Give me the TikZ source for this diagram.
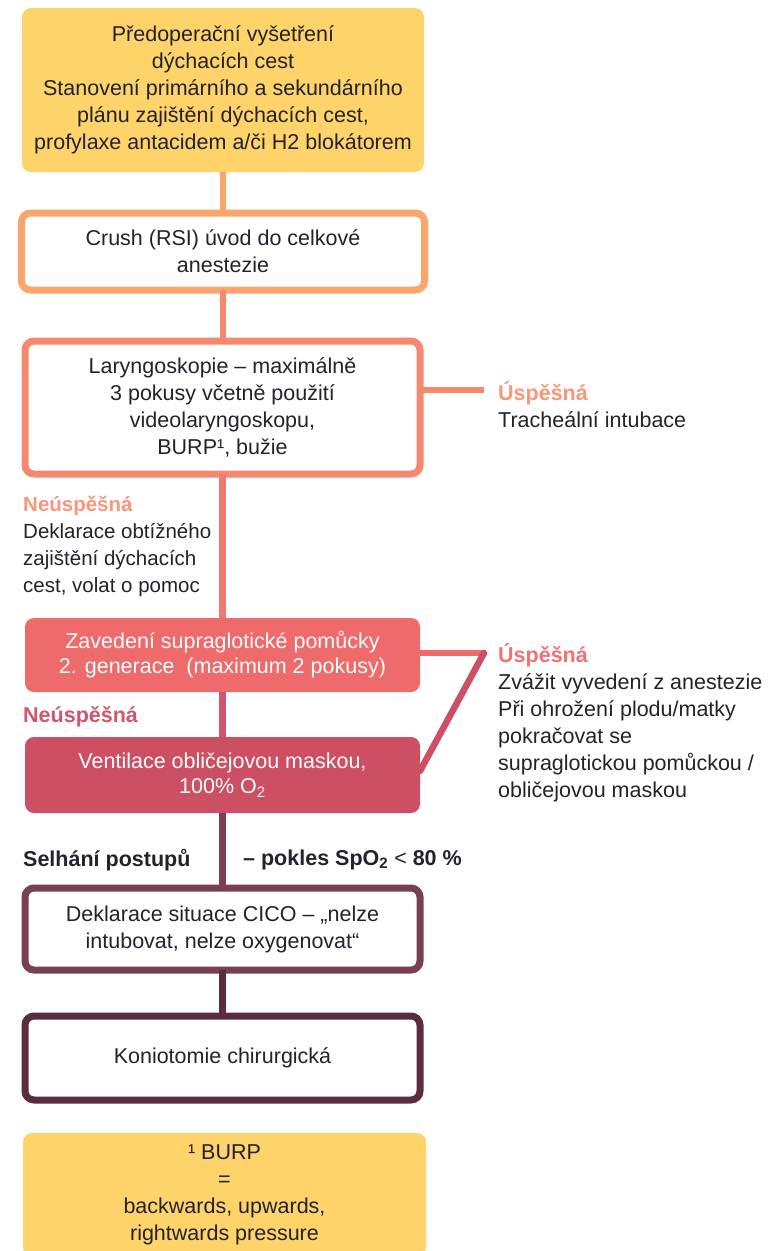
\documentclass[tikz,border=0pt]{standalone}
\usepackage{fontspec}
\setmainfont{Liberation Sans}
\definecolor{txt}{HTML}{23222E}
\definecolor{yel}{HTML}{FDD36A}
\definecolor{org}{HTML}{F9A56B}
\definecolor{sal}{HTML}{F4896F}
\definecolor{cor}{HTML}{EF6A6A}
\definecolor{rsp}{HTML}{CC4F64}
\definecolor{mar}{HTML}{7A3F52}
\definecolor{dmar}{HTML}{5B2C3F}
\definecolor{lblA}{HTML}{F8977A}
\definecolor{lblB}{HTML}{F07272}
\definecolor{lblC}{HTML}{D0566B}
\definecolor{lnk}{HTML}{F17A6E}
\newcommand\fs{\fontsize{21.5}{27}\selectfont}
\tikzset{
  box/.style={rectangle, rounded corners=9pt, align=center, inner sep=0pt, outer sep=0pt,
              minimum width=395pt, text=txt, font=\fs},
  obox/.style={box, draw, line width=7pt, fill=white},
  conn/.style={line width=6.5pt},
  lbl/.style={align=left, inner sep=0pt, text=txt, font=\fs},
}
\begin{document}
\begin{tikzpicture}[x=1pt,y=-1pt]
\useasboundingbox (0,0) rectangle (774,1251);
\clip (0,0) rectangle (774,1251);
\fill[white] (0,0) rectangle (774,1251);

% boxes
\node[box, fill=yel, minimum width=402pt, minimum height=164pt] (top) at (223,90)
  {Předoperační vyšetření\\dýchacích cest\\Stanovení primárního a sekundárního\\plánu zajištění dýchacích cest,\\profylaxe antacidem a/či H2 blokátorem};
\node[obox, draw=org, minimum width=403pt, minimum height=77pt] (crush) at (223,251.5)
  {Crush (RSI) úvod do celkové\\anestezie};
\node[obox, draw=sal, minimum height=133pt] (lar) at (222.5,407.5)
  {Laryngoskopie – maximálně\\3 pokusy včetně použití\\videolaryngoskopu,\\BURP¹, bužie};
\node[box, fill=cor, text=white, minimum height=74pt, font=\fontsize{21.5}{25}\selectfont] (zav) at (222.5,655)
  {Zavedení supraglotické pomůcky\\2. generace~ (maximum 2 pokusy)};
\node[box, fill=rsp, text=white, minimum height=76pt, font=\fontsize{21.5}{25}\selectfont] (ven) at (222.5,775)
  {Ventilace obličejovou maskou,\\100\% O\textsubscript{2}};
\node[obox, draw=mar, minimum height=82pt] (cico) at (222.5,929)
  {Deklarace situace CICO – „nelze\\intubovat, nelze oxygenovat“};
\node[obox, draw=dmar, minimum height=84pt] (kon) at (222.5,1058)
  {Koniotomie chirurgická};
\node[box, fill=yel, minimum width=403pt, minimum height=123pt] (foot) at (224.5,1194.5)
  {¹ BURP\\=\\backwards, upwards,\\rightwards pressure};

% side coordinates
\coordinate (r1) at (484,390);
\coordinate (r2) at (484,653);
\coordinate (v2) at (420,771);

% connectors
\draw[conn, org] (top.south) -- (top.south |- crush.north);
\draw[conn, sal] (crush.south) -- (crush.south |- lar.north);
\draw[conn, lnk] (lar.south) -- (lar.south |- zav.north);
\draw[conn, lblC] (zav.south) -- (zav.south |- ven.north);
\draw[conn, mar] (ven.south) -- (ven.south |- cico.north);
\draw[conn, dmar] (cico.south) -- (cico.south |- kon.north);
\draw[conn, sal] (lar.east |- r1) -- (r1);
\draw[conn, cor] (zav.east |- r2) -- (r2);
\draw[conn, rsp, line cap=round] (r2) -- (v2);

% labels
\node[lbl, anchor=west, font=\fontsize{20.5}{27}\selectfont] (neu1) at (23,546.5)
  {\textcolor{lblA}{\textbf{Neúspěšná}}\\Deklarace obtížného\\zajištění dýchacích\\cest, volat o pomoc};
\node[lbl, anchor=west] (neu2) at (23,717)
  {\textcolor{lblC}{\textbf{Neúspěšná}}};
\node[lbl, anchor=west] (usp1) at (498,405)
  {\textcolor{lblA}{\textbf{Úspěšná}}\\Tracheální intubace};
\node[lbl, anchor=west] (usp2) at (498,723)
  {\textcolor{lblB}{\textbf{Úspěšná}}\\Zvážit vyvedení z anestezie\\Při ohrožení plodu/matky\\pokračovat se\\supraglotickou pomůckou /\\obličejovou maskou};
\node[lbl, anchor=west] (sel) at (23,860) {\textbf{Selhání postupů}};
\node[lbl, anchor=west] (spo) at (243,860) {\textbf{– pokles SpO\textsubscript{2}} < \textbf{80 \%}};
\end{tikzpicture}
\end{document}
